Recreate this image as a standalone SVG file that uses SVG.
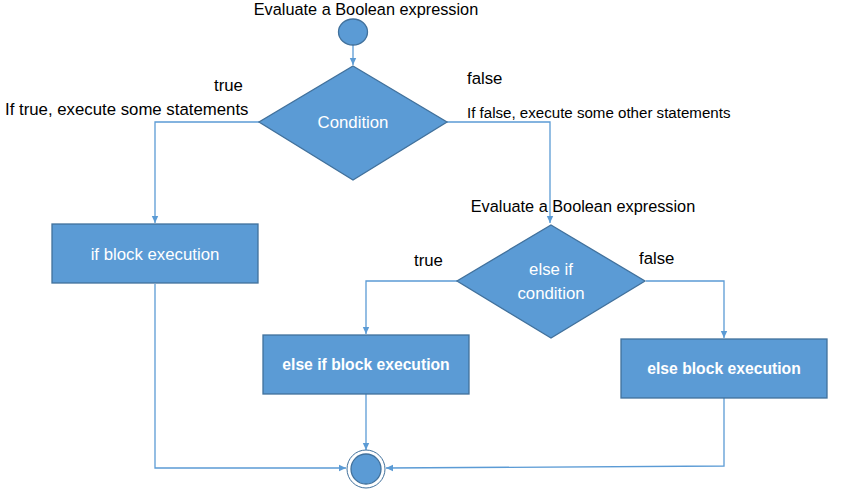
<svg xmlns="http://www.w3.org/2000/svg" width="843" height="495" viewBox="0 0 843 495">
<style>
.n{fill:#5B9BD5;stroke:#41719C;stroke-width:1.3}
.c{fill:none;stroke:#5B9BD5;stroke-width:1.3}
.t{font-family:"Liberation Sans",Arial,sans-serif;font-size:16.8px;fill:#000}
.e{font-size:16.3px;text-anchor:middle}
.s{font-size:15.1px}
.w{font-family:"Liberation Sans",Arial,sans-serif;font-size:16.8px;fill:#fff;text-anchor:middle}
.b{font-weight:bold;font-size:15.7px}
</style>
<defs>
<marker id="a" markerWidth="8" markerHeight="8" refX="7" refY="4" orient="auto" markerUnits="userSpaceOnUse">
<path d="M0,0.8 L7,4 L0,7.2 Z" fill="#5B9BD5"/>
</marker>
</defs>
<rect width="843" height="495" fill="#fff"/>
<g id="connectors">
<path class="c" d="M353,45 V65" marker-end="url(#a)"/>
<path class="c" d="M259,122 H155 V223" marker-end="url(#a)"/>
<path class="c" d="M447,122 H550 V223" marker-end="url(#a)"/>
<path class="c" d="M457,281 H366 V334" marker-end="url(#a)"/>
<path class="c" d="M646,281 H724 V338" marker-end="url(#a)"/>
<path class="c" d="M366,394 V450" marker-end="url(#a)"/>
<path class="c" d="M155,284 V468 H346" marker-end="url(#a)"/>
<path class="c" d="M724,398 V466 L386,468" marker-end="url(#a)"/>
</g>
<g id="start"><ellipse class="n" cx="353" cy="32" rx="14.5" ry="13"/></g>
<g id="condition">
<polygon class="n" points="353,66 447,122 353,180 259,122"/>
<text class="w" x="353" y="128">Condition</text>
</g>
<g id="if-block">
<rect class="n" x="52" y="224" width="206" height="59"/>
<text class="w" x="155" y="260">if block execution</text>
</g>
<g id="elseif-condition">
<polygon class="n" points="551,225 645,281 551,338 457,281"/>
<text class="w" x="551" y="275">else if</text>
<text class="w" x="551" y="299">condition</text>
</g>
<g id="elseif-block">
<rect class="n" x="263" y="335" width="206" height="59"/>
<text class="w b" x="366" y="370">else if block execution</text>
</g>
<g id="else-block">
<rect class="n" x="621" y="339" width="206" height="59"/>
<text class="w b" x="724" y="374">else block execution</text>
</g>
<g id="end">
<circle cx="366" cy="469" r="19" fill="#fff" stroke="#41719C" stroke-width="1"/>
<circle class="n" cx="366" cy="469" r="15"/>
</g>
<g id="labels">
<text class="t e" x="366" y="15">Evaluate a Boolean expression</text>
<text class="t" x="214" y="91">true</text>
<text class="t" x="5" y="115">If true, execute some statements</text>
<text class="t" x="467" y="84">false</text>
<text class="t s" x="467" y="118">If false, execute some other statements</text>
<text class="t e" x="583" y="212">Evaluate a Boolean expression</text>
<text class="t" x="414" y="266">true</text>
<text class="t" x="639" y="264">false</text>
</g>
</svg>
